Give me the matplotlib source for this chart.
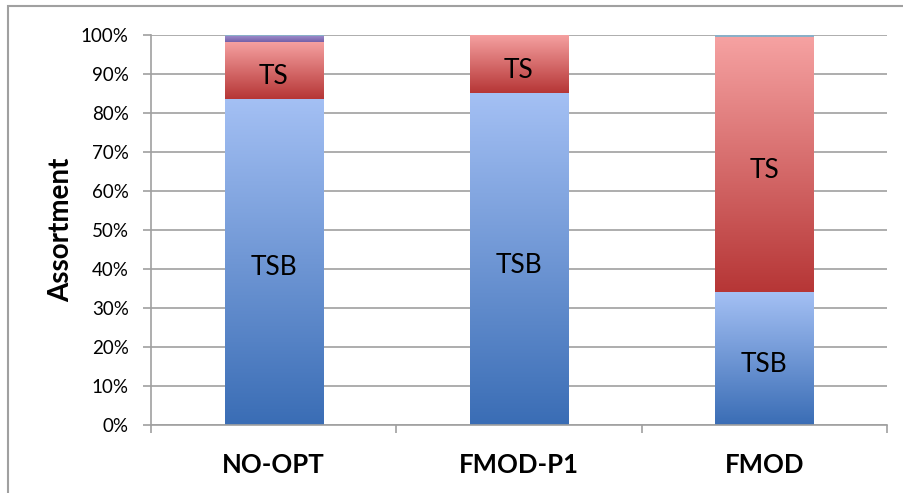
import numpy as np
import matplotlib
matplotlib.use('Agg')
import matplotlib.pyplot as plt
from matplotlib.colors import LinearSegmentedColormap
from matplotlib.patches import Rectangle
from matplotlib.ticker import PercentFormatter

categories = ['NO-OPT', 'FMOD-P1', 'FMOD']
tsb = [83.6, 85.1, 34.1]
ts = [14.7, 14.9, 65.4]
other1 = [1.4, 0.0, 0.0]
other2 = [0.3, 0.0, 0.5]

series = [
    ('TSB', tsb, ('#a4c0f4', '#3a6db5')),
    ('TS', ts, ('#f6a2a2', '#b63636')),
    ('Other1', other1, ('#9a88c8', '#7460a8')),
    ('Other2', other2, ('#8ab0c8', '#8ab0c8')),
]
seg_labels = {'TSB': True, 'TS': True}

plt.rcParams['font.family'] = ['Lato', 'DejaVu Sans']

fig = plt.figure(figsize=(9.04, 4.93), dpi=100)
ax = fig.add_axes([151/904, 1-425/493, (887-151)/904, (425-35)/493])

# outer frame of the chart area
fig.patches.append(Rectangle((8/904, -0.1), 1.2, 1-6/493+0.1, transform=fig.transFigure,
                             fill=False, edgecolor='#a0a0a0', linewidth=1.5, zorder=0))

x = np.arange(len(categories))
bottom = np.zeros(len(categories))
grad = np.linspace(0, 1, 256).reshape(-1, 1)
for name, vals, (top_c, bot_c) in series:
    vals = np.array(vals)
    bars = ax.bar(x, vals, width=0.4, bottom=bottom, facecolor='none', edgecolor='none', zorder=3)
    cmap = LinearSegmentedColormap.from_list(name, [bot_c, top_c])
    for b, v in zip(bars, vals):
        if v <= 0:
            continue
        x0, y0 = b.get_x(), b.get_y()
        im = ax.imshow(grad, cmap=cmap, aspect='auto', origin='lower',
                       extent=[x0, x0 + b.get_width(), y0, y0 + b.get_height()], zorder=2)
        im.set_clip_path(b)
        if name in seg_labels:
            ax.annotate(name, (x0 + b.get_width()/2, y0 + b.get_height()/2),
                        xytext=(0, -2.5), textcoords='offset points', ha='center',
                        va='center_baseline', fontsize=19, color='black', zorder=4)
    bottom += vals

ax.set_xlim(-0.5, len(categories) - 0.5)
ax.set_ylim(0, 100)
ax.set_yticks(np.arange(0, 101, 10))
ax.yaxis.set_major_formatter(PercentFormatter(decimals=0))
ax.set_xticks(x)
ax.set_xticklabels(categories, fontsize=18.5, fontweight='bold')
ax.set_xticks(np.arange(-0.5, len(categories), 1), minor=True)
ax.tick_params(axis='x', which='major', length=0, pad=20)
ax.tick_params(axis='x', which='minor', length=6, color='#a0a0a0', width=1.2)
ax.tick_params(axis='y', length=6, color='#a0a0a0', width=1.2, labelsize=13.5, pad=10)
ax.set_ylabel('Assortment', fontsize=20, fontweight='bold', labelpad=5)
ax.grid(axis='y', color='#a0a0a0', linewidth=1.2, zorder=0)
ax.set_axisbelow(True)
for s in ['top', 'right']:
    ax.spines[s].set_visible(False)
for s in ['left', 'bottom']:
    ax.spines[s].set_color('#a0a0a0')
    ax.spines[s].set_linewidth(1.2)

fig.savefig('out.png', dpi=100)
